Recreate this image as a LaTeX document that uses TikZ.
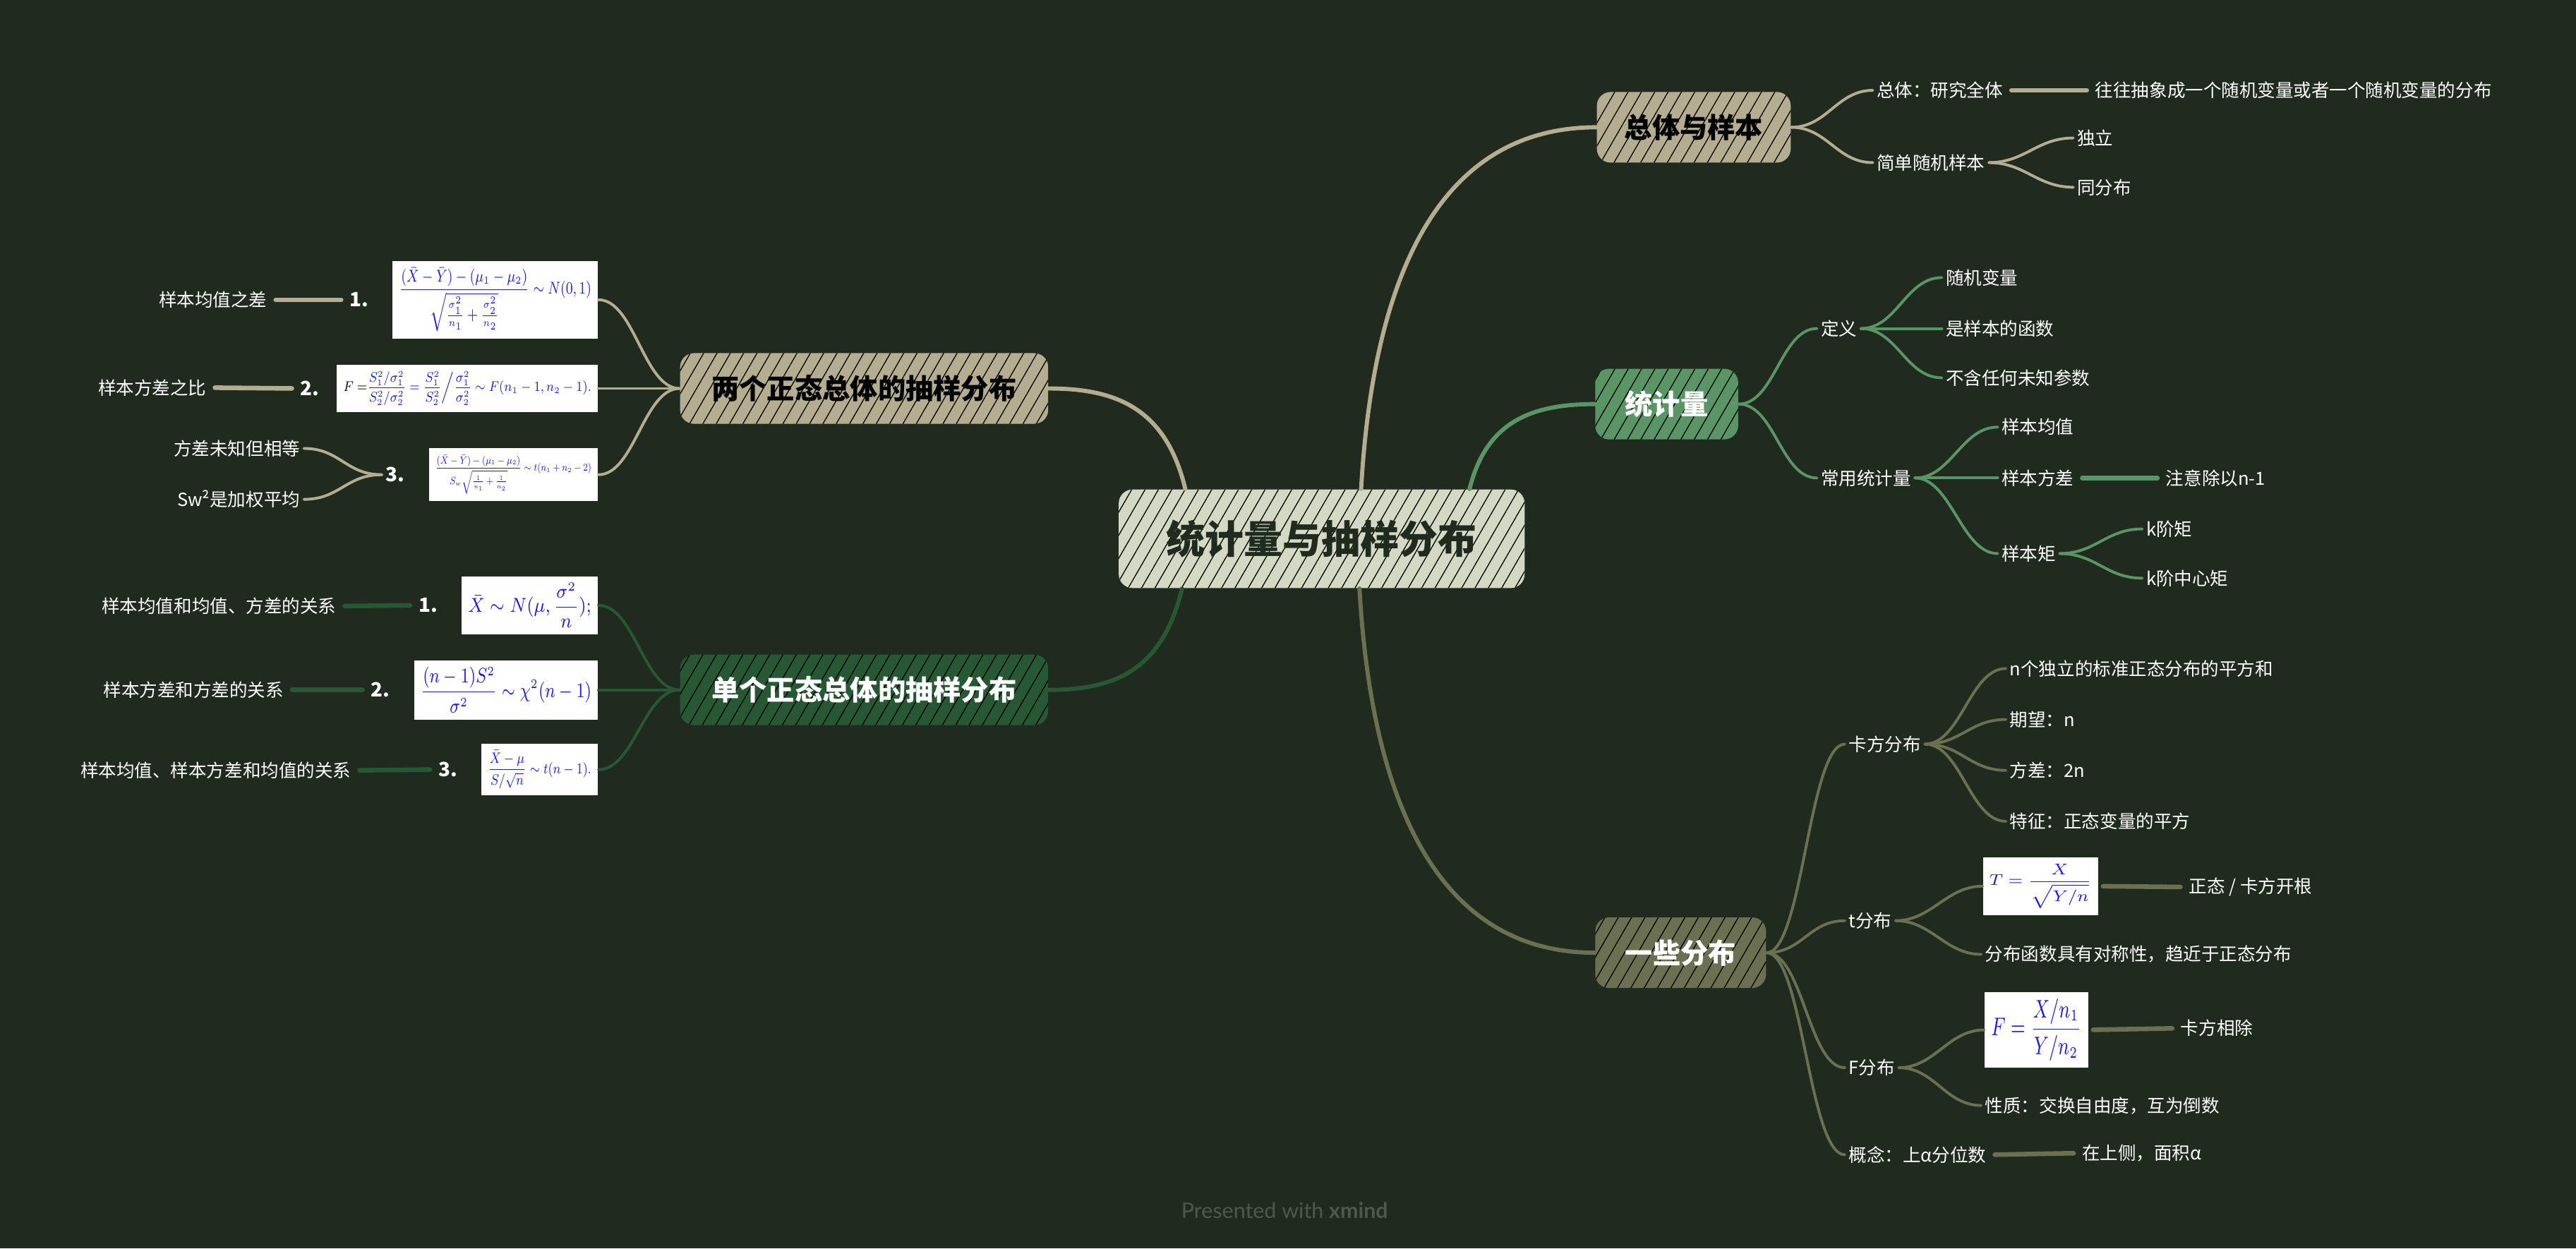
\documentclass[tikz,border=0pt]{standalone}
\usepackage{fontspec}
\usepackage{graphicx}
\setmainfont{Noto Sans CJK SC}
\newfontfamily\footfont{Lato}
\usetikzlibrary{positioning,calc,patterns.meta}

\definecolor{bgcol}{HTML}{202A1F}
\definecolor{rootcol}{HTML}{D4D9C4}
\definecolor{tancol}{HTML}{B5AD8F}
\definecolor{statcol}{HTML}{5A9566}
\definecolor{olivecol}{HTML}{6B7051}
\definecolor{dkgreen}{HTML}{275834}
\definecolor{formblue}{HTML}{1A1AE6}
\definecolor{footcol}{HTML}{4D5A4B}

% one pixel of the layout grid
\newlength\pxu
\setlength\pxu{0.025cm}
\newcommand\fml[3]{\resizebox*{#1\pxu}{#2\pxu}{$\displaystyle #3$}}

\begin{document}
\begin{tikzpicture}[x=0.025cm, y=-0.025cm,
  every node/.style={font=\fontsize{7.8}{9}\selectfont, text=white, inner sep=1.5pt},
  topic/.style={rounded corners=6pt, minimum height=1.075cm, inner sep=0pt,
    font=\fontsize{12}{14}\selectfont\bfseries,
    postaction={pattern={Lines[angle=60,distance=5pt,line width=0.4pt]}, pattern color=black, fill opacity=0.18}},
  formula/.style={fill=white, inner sep=0.1cm, text=formblue},
  num/.style={font=\fontsize{8.5}{10}\selectfont\bfseries},
  trunk/.style={line width=1.8pt, line cap=round},
  twig/.style={line width=1.2pt, line cap=round},
  stub/.style={line width=2pt, line cap=round, shorten <=2pt, shorten >=2pt}]

\useasboundingbox (0,0) rectangle (1568,760);
\fill[bgcol] (0,0) rectangle (1568,760);

% main topics
\node[topic, fill=rootcol, text=bgcol, minimum width=6.175cm, minimum height=1.5cm,
  font=\fontsize{16.8}{20}\selectfont\bfseries] (root) at (804.5,328) {统计量与抽样分布};
\node[topic, fill=tancol, text=black, minimum width=2.95cm] (pop) at (1031,77.5) {总体与样本};
\node[topic, fill=statcol, minimum width=2.175cm] (stat) at (1014.5,246) {统计量};
\node[topic, fill=olivecol, minimum width=2.6cm] (dist) at (1023,580) {一些分布};
\node[topic, fill=tancol, text=black, minimum width=5.6cm] (two) at (526,236.5) {两个正态总体的抽样分布};
\node[topic, fill=dkgreen, minimum width=5.6cm] (one) at (526,420) {单个正态总体的抽样分布};

\draw[trunk, tancol] ($(root.north)+(24,0)$) .. controls +(8,-140) and +(-90,0) .. (pop.west);
\draw[trunk, statcol] ($(root.north)+(90,0)$) .. controls +(10,-40) and +(-40,0) .. (stat.west);
\draw[trunk, olivecol] ($(root.south)+(23,0)$) .. controls +(8,140) and +(-90,0) .. (dist.west);
\draw[trunk, tancol] ($(root.north)+(-83,0)$) .. controls +(-12,-50) and +(40,0) .. (two.east);
\draw[trunk, dkgreen] ($(root.south)+(-85,0)$) .. controls +(-12,50) and +(40,0) .. (one.east);

% 总体与样本
\node[anchor=west] (popA) at (1140,55) {总体：研究全体};
\node[anchor=west] (popB) at (1140,99) {简单随机样本};
\node[anchor=west] (popA1) at (1273,55) {往往抽象成一个随机变量或者一个随机变量的分布};
\node[anchor=west] (popB1) at (1262,84) {独立};
\node[anchor=west] (popB2) at (1262,114) {同分布};
\foreach \kid in {popA,popB}
  \draw[twig, tancol] (pop.east) .. controls +(22,0) and +(-22,0) .. (\kid.west);
\draw[stub, tancol] (popA.east) -- (popA1.west);
\foreach \kid in {popB1,popB2}
  \draw[twig, tancol] (popB.east) .. controls +(22,0) and +(-22,0) .. (\kid.west);

% 统计量
\node[anchor=west] (defn) at (1106,200) {定义};
\node[anchor=west] (common) at (1106,291) {常用统计量};
\node[anchor=west] (defnA) at (1182,169) {随机变量};
\node[anchor=west] (defnB) at (1182,200) {是样本的函数};
\node[anchor=west] (defnC) at (1182,230) {不含任何未知参数};
\node[anchor=west] (mean) at (1216,260) {样本均值};
\node[anchor=west] (svar) at (1216,291) {样本方差};
\node[anchor=west] (moment) at (1216,337) {样本矩};
\node[anchor=west] (svarA) at (1316,291) {注意除以n-1};
\node[anchor=west] (momA) at (1304,322) {k阶矩};
\node[anchor=west] (momB) at (1304,352) {k阶中心矩};
\foreach \kid in {defn,common}
  \draw[twig, statcol] (stat.east) .. controls +(22,0) and +(-22,0) .. (\kid.west);
\foreach \kid in {defnA,defnB,defnC}
  \draw[twig, statcol] (defn.east) .. controls +(22,0) and +(-22,0) .. (\kid.west);
\foreach \kid in {mean,svar,moment}
  \draw[twig, statcol] (common.east) .. controls +(22,0) and +(-22,0) .. (\kid.west);
\draw[stub, statcol] (svar.east) -- (svarA.west);
\foreach \kid in {momA,momB}
  \draw[twig, statcol] (moment.east) .. controls +(22,0) and +(-22,0) .. (\kid.west);

% 一些分布
\node[anchor=west] (chi) at (1123,453) {卡方分布};
\node[anchor=west] (tdist) at (1123,560.5) {t分布};
\node[anchor=west] (fdist) at (1123,650) {F分布};
\node[anchor=west] (quant) at (1123,703) {概念：上α分位数};
\node[anchor=west] (chiA) at (1221,407) {n个独立的标准正态分布的平方和};
\node[anchor=west] (chiB) at (1221,438) {期望：n};
\node[anchor=west] (chiC) at (1221,469) {方差：2n};
\node[anchor=west] (chiD) at (1221,500) {特征：正态变量的平方};
\node[formula] (tform) at (1242,539.5) {\fml{62}{27}{T=\frac{X}{\sqrt{Y/n}}}};
\node[anchor=west] (tformA) at (1330,540) {正态 / 卡方开根};
\node[anchor=west] (tsym) at (1206,581) {分布函数具有对称性，趋近于正态分布};
\node[formula] (fform) at (1239.5,627) {\fml{55}{38}{F=\frac{X/n_1}{Y/n_2}}};
\node[anchor=west] (fformA) at (1325,626) {卡方相除};
\node[anchor=west] (fprop) at (1206,673) {性质：交换自由度，互为倒数};
\node[anchor=west] (quantA) at (1265,702) {在上侧，面积α};
\foreach \kid in {chi,tdist,fdist,quant}
  \draw[twig, olivecol] (dist.east) .. controls +(22,0) and +(-22,0) .. (\kid.west);
\foreach \kid in {chiA,chiB,chiC,chiD}
  \draw[twig, olivecol] (chi.east) .. controls +(22,0) and +(-22,0) .. (\kid.west);
\foreach \kid in {tform,tsym}
  \draw[twig, olivecol] (tdist.east) .. controls +(22,0) and +(-22,0) .. (\kid.west);
\draw[stub, olivecol] (tform.east) -- (tformA.west);
\foreach \kid in {fform,fprop}
  \draw[twig, olivecol] (fdist.east) .. controls +(22,0) and +(-22,0) .. (\kid.west);
\draw[stub, olivecol] (fform.east) -- (fformA.west);
\draw[stub, olivecol] (quant.east) -- (quantA.west);

% 两个正态总体的抽样分布
\node[formula] (twoA) at (301.5,182.5)
  {\fml{117}{39}{\frac{(\bar X-\bar Y)-(\mu_1-\mu_2)}{\sqrt{\frac{\sigma_1^2}{n_1}+\frac{\sigma_2^2}{n_2}}}\sim N(0,1)}};
\node[formula] (twoB) at (284.5,236.5)
  {\fml{151}{21}{{\color{black}F=}\frac{S_1^2/\sigma_1^2}{S_2^2/\sigma_2^2}=\frac{S_1^2}{S_2^2}\Big/\frac{\sigma_1^2}{\sigma_2^2}\sim F(n_1-1,n_2-1).}};
\node[formula] (twoC) at (312.5,289)
  {\fml{95}{24}{\frac{(\bar X-\bar Y)-(\mu_1-\mu_2)}{S_w\sqrt{\frac{1}{n_1}+\frac{1}{n_2}}}\sim t(n_1+n_2-2)}};
\node[num, left=0.3cm of twoA] (twoAn) {1.};
\node[num, left=0.2cm of twoB] (twoBn) {2.};
\node[num, left=0.3cm of twoC] (twoCn) {3.};
\node[anchor=east] (twoA1) at (165,182.5) {样本均值之差};
\node[anchor=east] (twoB1) at (128,236) {样本方差之比};
\node[anchor=east] (twoC1) at (185,273) {方差未知但相等};
\node[anchor=east] (twoC2) at (185,304) {Sw²是加权平均};
\foreach \kid in {twoA,twoB,twoC}
  \draw[twig, tancol] (two.west) .. controls +(-22,0) and +(22,0) .. (\kid.east);
\draw[stub, tancol] (twoA1.east) -- (twoAn.west);
\draw[stub, tancol] (twoB1.east) -- (twoBn.west);
\foreach \kid in {twoC1,twoC2}
  \draw[twig, tancol] (twoCn.west) .. controls +(-22,0) and +(22,0) .. (\kid.east);

% 单个正态总体的抽样分布
\node[formula] (oneA) at (322.5,368.5) {\fml{75}{27}{\bar X\sim N(\mu,\frac{\sigma^2}{n});}};
\node[formula] (oneB) at (308,420) {\fml{104}{28}{\frac{(n-1)S^2}{\sigma^2}\sim\chi^2(n-1)}};
\node[formula] (oneC) at (328.5,468.5) {\fml{63}{23}{\frac{\bar X-\mu}{S/\sqrt{n}}\sim t(n-1).}};
\node[num, left=0.3cm of oneA] (oneAn) {1.};
\node[num, left=0.3cm of oneB] (oneBn) {2.};
\node[num, left=0.3cm of oneC] (oneCn) {3.};
\node[anchor=east] (oneA1) at (207,369) {样本均值和均值、方差的关系};
\node[anchor=east] (oneB1) at (175,420) {样本方差和方差的关系};
\node[anchor=east] (oneC1) at (216,469) {样本均值、样本方差和均值的关系};
\foreach \kid in {oneA,oneB,oneC}
  \draw[twig, dkgreen] (one.west) .. controls +(-22,0) and +(22,0) .. (\kid.east);
\draw[stub, dkgreen] (oneA1.east) -- (oneAn.west);
\draw[stub, dkgreen] (oneB1.east) -- (oneBn.west);
\draw[stub, dkgreen] (oneC1.east) -- (oneCn.west);

\node[font=\footfont\fontsize{9.3}{11}\selectfont, text=footcol] (credit) at (782,737) {Presented with \textbf{xmind}};
\end{tikzpicture}
\end{document}
